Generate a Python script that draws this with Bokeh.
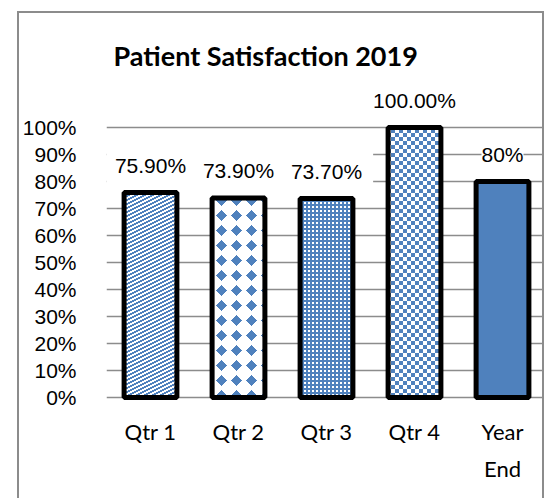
import base64
from bokeh.plotting import figure
from bokeh.models import (ColumnDataSource, FixedTicker, NumeralTickFormatter, LabelSet,
                          BoxAnnotation, ImageURLTexture, Label)
from bokeh.core.properties import value
from bokeh.embed import file_html
from bokeh.resources import INLINE

# ---- data ----
categories = ["Qtr 1", "Qtr 2", "Qtr 3", "Qtr 4", "Year End"]
category_labels = ["Qtr 1", "Qtr 2", "Qtr 3", "Qtr 4", "Year\nEnd"]
satisfaction = [0.759, 0.739, 0.737, 1.00, 0.80]
value_labels = ["75.90%", "73.90%", "73.70%", "100.00%", "80%"]
y_ticks = [0.0, 0.1, 0.2, 0.3, 0.4, 0.5, 0.6, 0.7, 0.8, 0.9, 1.0]
title_text = "Patient Satisfaction 2019"

# ---- styles ----
BLUE = "#4F81BD"
fills = ["white", "white", "white", "white", BLUE]
hatches = ["stripes", "diamonds", "grid", "checker", " "]


def svg_texture(w, h, body, bg="white"):
    svg = (f'<svg xmlns="http://www.w3.org/2000/svg" width="{w}" height="{h}" '
           f'shape-rendering="crispEdges">'
           f'<rect width="{w}" height="{h}" fill="{bg}"/>{body}</svg>')
    return ImageURLTexture(url="data:image/svg+xml;base64," +
                           base64.b64encode(svg.encode()).decode())


textures = {
    "stripes": svg_texture(8, 4,
        f'<polygon points="0,0 4,0 0,2" fill="{BLUE}"/>'
        f'<polygon points="8,0 8,2 4,4 0,4" fill="{BLUE}"/>'),
    "diamonds": svg_texture(15, 15,
        f'<polygon points="7.5,2 13,7.5 7.5,13 2,7.5" fill="{BLUE}"/>'),
    "grid": svg_texture(4, 4, '<rect x="1" y="1" width="2" height="2" fill="white"/>', bg=BLUE),
    "checker": svg_texture(8, 8,
        f'<rect width="4" height="4" fill="{BLUE}"/>'
        f'<rect x="4" y="4" width="4" height="4" fill="{BLUE}"/>'),
}

source = ColumnDataSource(dict(
    cat=categories, val=satisfaction, lab=value_labels, catlab=category_labels,
    base=[0.0] * len(categories), fill=fills, hatch=hatches,
))

p = figure(x_range=categories, y_range=(-0.3815, 1.4222), width=527, height=487,
           output_backend="svg", toolbar_location=None,
           min_border_left=82, min_border_right=0, min_border_top=0, min_border_bottom=0)
p.styles = {"margin-left": "17px", "margin-top": "11px",
            "border-left": "2px solid #8c8c8c", "border-top": "2px solid #8c8c8c",
            "border-right": "2px solid #8c8c8c"}
p.outline_line_color = None
p.background_fill_color = "white"
p.border_fill_color = "white"

# grid
p.xgrid.grid_line_color = None
p.ygrid.grid_line_color = "#8c8c8c"
p.ygrid.grid_line_width = 1.6
p.yaxis.ticker = FixedTicker(ticks=y_ticks)

# white-out area hiding the 80/90% gridlines on the left (as in the reference)
p.add_layout(BoxAnnotation(left=0, right=3.03, bottom=0.78, top=0.93,
                           fill_color="white", fill_alpha=1, line_alpha=0,
                           level="underlay", editable=False))

p.vbar(x="cat", top="val", width=0.6, source=source,
       fill_color="fill", line_color="black", line_width=5,
       hatch_pattern="hatch", hatch_color=BLUE, hatch_extra=textures)

labels = LabelSet(x="cat", y="val", text="lab", source=source, y_offset=27,
                  text_align="center", text_baseline="middle",
                  text_font=value("Liberation Sans"), text_font_size="21px",
                  text_color="black", background_fill_color="white")
p.add_layout(labels)

# category labels (multi-line capable)
p.text(x="cat", y="base", text="catlab", source=source, y_offset=21,
       text_align="center", text_baseline="top", text_font=value("Lato"),
       text_font_size="22px", text_color="black", text_line_height=1.34)

# y axis
p.yaxis.formatter = NumeralTickFormatter(format="0%")
p.yaxis.axis_line_color = None
p.yaxis.major_tick_line_color = None
p.yaxis.minor_tick_line_color = None
p.yaxis.major_label_standoff = 24
p.yaxis.major_label_text_font = "Liberation Sans"
p.yaxis.major_label_text_font_size = "21px"
p.yaxis.major_label_text_color = "black"

p.xaxis.visible = False

# title
p.add_layout(Label(x=1.809, y=1.267, text=title_text, text_align="center",
                   text_baseline="middle", text_font="Lato",
                   text_font_style="bold", text_font_size="27px", text_color="black"))

open("out.html", "w").write(file_html(p, INLINE))
